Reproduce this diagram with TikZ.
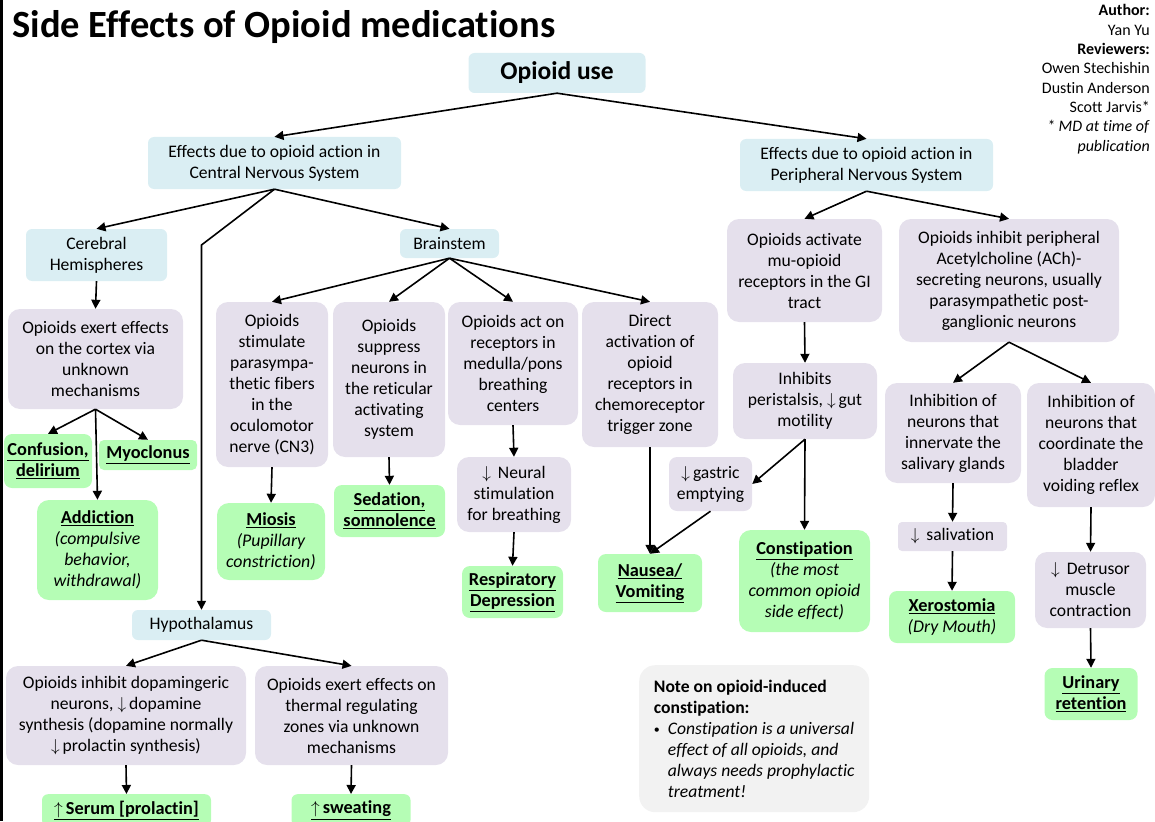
\documentclass[tikz,border=0pt]{standalone}
\usepackage{fontspec}
\setmainfont{Carlito}[Ligatures=NoCommon]
\usetikzlibrary{arrows.meta}

\definecolor{cnsblue}{HTML}{DAEEF3}
\definecolor{mechpurple}{HTML}{E5E0EC}
\definecolor{effgreen}{HTML}{B5FDB5}
\definecolor{notegray}{HTML}{F2F2F2}

\newcommand{\dnarr}{$\downarrow$}
\newcommand{\uparr}{$\uparrow$}
\newcommand{\subnote}[1]{{\fontsize{17.8}{21}\selectfont\itshape #1}}
\newcommand{\bu}[1]{\textbf{\underline{#1}}}

\tikzset{
    box/.style={rounded corners=12pt, align=center, inner sep=0pt,
        font=\fontsize{17.6}{21}\selectfont},
    region/.style={box, fill=cnsblue, rounded corners=6pt},
    mech/.style={box, fill=mechpurple},
    effect/.style={box, fill=effgreen, font=\fontsize{18.3}{21}\selectfont},
    arr/.style={line width=1.6pt, -{Triangle[length=9pt,width=9pt]}},
}

\begin{document}
\begin{tikzpicture}[x=1pt, y=-1pt]
    \useasboundingbox (0,0) rectangle (1155,821);
    \clip (0,0) rectangle (1155,821);
    \fill[black] (0,0) rectangle (3,821);

    % title and credits
    \node[anchor=base west, font=\fontsize{38.5}{42}\selectfont\bfseries] (title) at (9,38) {Side Effects of Opioid medications};
    \node[anchor=north east, align=right, inner sep=0pt, font=\fontsize{16}{19.3}\selectfont] (credits) at (1150,4.5)
        {\textbf{Author:}\\Yan Yu\\\textbf{Reviewers:}\\Owen Stechishin\\Dustin Anderson\\Scott Jarvis*\\\textit{* MD at time of}\\\textit{publication}};

    % top levels
    \node[region, minimum width=177pt, minimum height=40pt, font=\fontsize{25.5}{28}\selectfont\bfseries] (use) at (557,73) {Opioid use};
    \node[region, minimum width=253pt, minimum height=52pt] (cns) at (274.5,163) {Effects due to opioid action in\\Central Nervous System};
    \node[region, minimum width=253pt, minimum height=52pt] (pns) at (866.5,165) {Effects due to opioid action in\\Peripheral Nervous System};
    \node[region, minimum width=141pt, minimum height=52pt] (cereb) at (96.5,255) {Cerebral\\Hemispheres};
    \node[region, minimum width=99pt, minimum height=29pt] (brain) at (449.5,243.5) {Brainstem};
    \node[region, minimum width=139pt, minimum height=30pt] (hypo) at (201.5,625) {Hypothalamus};
    \coordinate (hbend) at (201.5,245);

    % mechanisms
    \node[mech, minimum width=175pt, minimum height=100pt] (cortex) at (95.5,359) {Opioids exert effects\\on the cortex via\\unknown\\mechanisms};
    \node[mech, minimum width=112pt, minimum height=165pt] (stim) at (272,384.5) {Opioids\\stimulate\\parasympa-\\thetic fibers\\in the\\oculomotor\\nerve (CN3)};
    \node[mech, minimum width=112pt, minimum height=155pt] (supp) at (389,379.5) {Opioids\\suppress\\neurons in\\the reticular\\activating\\system};
    \node[mech, minimum width=130pt, minimum height=123pt] (acton) at (513,363.5) {Opioids act on\\receptors in\\medulla/pons\\breathing\\centers};
    \node[mech, minimum width=136pt, minimum height=145pt] (direct) at (650,374.5) {Direct\\activation of\\opioid\\receptors in\\chemoreceptor\\trigger zone};
    \node[mech, minimum width=155pt, minimum height=103pt] (mu) at (804.5,270.5) {Opioids activate\\mu-opioid\\receptors in the GI\\tract};
    \node[mech, minimum width=220pt, minimum height=123pt] (inhibp) at (1009,280.5) {Opioids inhibit peripheral\\Acetylcholine (ACh)-\\secreting neurons, usually\\parasympathetic post-\\ganglionic neurons};
    \node[mech, minimum width=144pt, minimum height=76pt] (perist) at (805,401) {Inhibits\\peristalsis, \dnarr\,gut\\motility};
    \node[mech, minimum width=83pt, minimum height=54pt, rounded corners=8pt] (gastric) at (710.5,484) {\dnarr\,gastric\\emptying};
    \node[mech, minimum width=136pt, minimum height=100pt] (saliv) at (953,433) {Inhibition of\\neurons that\\innervate the\\salivary glands};
    \node[mech, minimum width=128pt, minimum height=124pt] (bladder) at (1091,445) {Inhibition of\\neurons that\\coordinate the\\bladder\\voiding reflex};
    \node[mech, minimum width=114pt, minimum height=75pt] (neural) at (514,494.5) {\dnarr\ \,Neural\\stimulation\\for breathing};
    \node[mech, minimum width=109pt, minimum height=29pt, rounded corners=4pt] (salivation) at (952.5,536.5) {\dnarr\ \,salivation};
    \node[mech, minimum width=111pt, minimum height=76pt] (detrusor) at (1090.5,590) {\dnarr\ \,Detrusor\\muscle\\contraction};
    \node[mech, minimum width=240pt, minimum height=99pt] (dopa) at (126,715.5) {Opioids inhibit dopamingeric\\neurons, \dnarr\,dopamine\\synthesis (dopamine normally\\\dnarr\,prolactin synthesis)};
    \node[mech, minimum width=193pt, minimum height=99pt] (thermal) at (351.5,715.5) {Opioids exert effects on\\thermal regulating\\zones via unknown\\mechanisms};

    % side effects
    \node[effect, minimum width=88pt, minimum height=54pt, rounded corners=8pt] (confusion) at (48,461) {\bu{Confusion,}\\\bu{delirium}};
    \node[effect, minimum width=98pt, minimum height=30pt, rounded corners=5pt] (myoclonus) at (148,455) {\bu{Myoclonus}};
    \node[effect, minimum width=121pt, minimum height=100pt] (addiction) at (97.5,550) {\bu{Addiction}\\\subnote{(compulsive}\\\subnote{behavior,}\\\subnote{withdrawal)}};
    \node[effect, minimum width=108pt, minimum height=77pt] (miosis) at (271,541.5) {\bu{Miosis}\\\subnote{(Pupillary}\\\subnote{constriction)}};
    \node[effect, minimum width=111pt, minimum height=52pt, rounded corners=8pt] (sedation) at (389.5,511) {\bu{Sedation,}\\\bu{somnolence}};
    \node[effect, minimum width=101pt, minimum height=52pt, rounded corners=8pt] (resp) at (512.5,592) {\bu{Respiratory}\\\bu{Depression}};
    \node[effect, minimum width=104pt, minimum height=58pt, rounded corners=8pt] (nausea) at (650,583) {\bu{Nausea/}\\\bu{Vomiting}};
    \node[effect, minimum width=131pt, minimum height=102pt] (constip) at (804.5,581) {\bu{Constipation}\\\subnote{(the most}\\\subnote{common opioid}\\\subnote{side effect)}};
    \node[effect, minimum width=126pt, minimum height=52pt, rounded corners=8pt] (xero) at (952,617) {\bu{Xerostomia}\\\subnote{(Dry Mouth)}};
    \node[effect, minimum width=93pt, minimum height=52pt, rounded corners=8pt] (urinary) at (1091,694) {\bu{Urinary}\\\bu{retention}};
    \node[effect, minimum width=169pt, minimum height=32pt, rounded corners=6pt, anchor=north] (serum) at (126.5,794) {\bu{\uparr\,Serum [prolactin]}};
    \node[effect, minimum width=119pt, minimum height=32pt, rounded corners=6pt, anchor=north] (sweat) at (351,794) {\bu{\uparr\,sweating}};

    % note
    \node[box, fill=notegray, minimum width=230pt, minimum height=147pt, rounded corners=16pt, align=left, anchor=north west, inner xsep=12pt, inner ysep=10pt] (note) at (639,665)
        {\textbf{Note on opioid-induced}\\\textbf{constipation:}\\\makebox[14pt][l]{\raisebox{1pt}{\fontsize{12}{12}\selectfont•}}\textit{Constipation is a universal}\\\hspace*{14pt}\textit{effect of all opioids, and}\\\hspace*{14pt}\textit{always needs prophylactic}\\\hspace*{14pt}\textit{treatment!}};

    % connectors
    \draw[arr] (use.south) -- (cns.north);
    \draw[arr] (use.south) -- (pns.north);
    \draw[arr] (cns.south) -- (cereb.north);
    \draw[arr] (cns.south) -- (brain.north);
    \draw[arr] (cns.south) -- (hbend) -- (hypo.north);
    \draw[arr] (cereb.south) -- (cortex.north);
    \draw[arr] (cortex.south) -- (confusion.north);
    \draw[arr] (cortex.south) -- (myoclonus.north);
    \draw[arr] (cortex.south) -- (addiction.north);
    \draw[arr] (brain.south) -- (stim.north);
    \draw[arr] (brain.south) -- (supp.north);
    \draw[arr] (brain.south) -- (acton.north);
    \draw[arr] (brain.south) -- (direct.north);
    \draw[arr] (stim.south) -- (miosis.north);
    \draw[arr] (supp.south) -- (sedation.north);
    \draw[arr] (acton.south) -- (neural.north);
    \draw[arr] (neural.south) -- (resp.north);
    \draw[arr] (direct.south) -- (nausea.north);
    \draw[arr] (gastric.south) -- (nausea.north);
    \draw[arr] (pns.south) -- (mu.north);
    \draw[arr] (pns.south) -- (inhibp.north);
    \draw[arr] (mu.south) -- (perist.north);
    \draw[arr] (perist.south) -- (gastric.east);
    \draw[arr] (perist.south) -- (constip.north);
    \draw[arr] (inhibp.south) -- (saliv.north);
    \draw[arr] (inhibp.south) -- (bladder.north);
    \draw[arr] (saliv.south) -- (salivation.north);
    \draw[arr] (salivation.south) -- (xero.north);
    \draw[arr] (bladder.south) -- (detrusor.north);
    \draw[arr] (detrusor.south) -- (urinary.north);
    \draw[arr] (hypo.south) -- (dopa.north);
    \draw[arr] (hypo.south) -- (thermal.north);
    \draw[arr] (dopa.south) -- (serum.north);
    \draw[arr] (thermal.south) -- (sweat.north);
\end{tikzpicture}
\end{document}
